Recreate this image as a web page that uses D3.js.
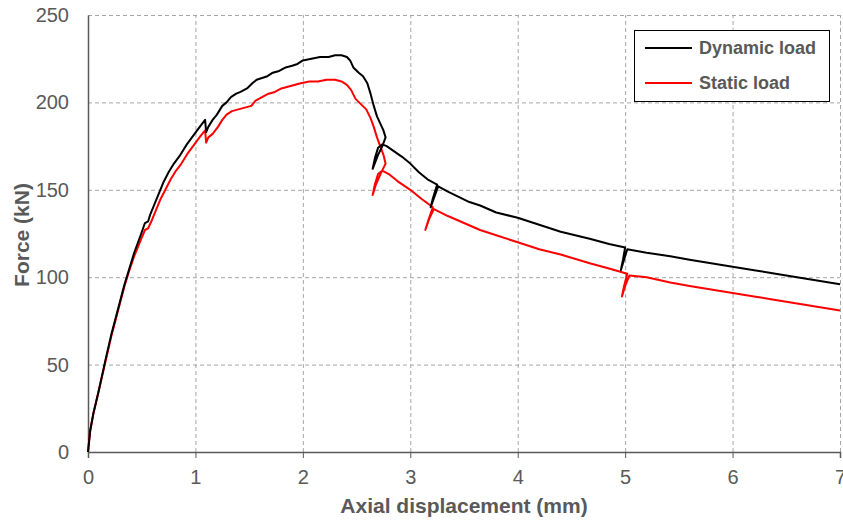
<!DOCTYPE html>
<html><head><meta charset="utf-8">
<script src="https://cdn.jsdelivr.net/npm/d3@7"></script>
<style>
body{margin:0;background:#fff;}
svg{display:block;}
text{font-family:"Liberation Sans Narrow","Arial Narrow","Liberation Sans",sans-serif;}
</style></head>
<body>
<svg id="chart" width="843" height="521"></svg>
<script>
const xTicks = [0,1,2,3,4,5,6,7];
const yTicks = [0,50,100,150,200,250];
const seriesNames = ["Dynamic load","Static load"];
const seriesColors = ["#000000","#ff0000"];

const dynamicX = [0,0.02,0.05,0.1,0.16,0.22,0.28,0.34,0.38,0.43,0.49,0.53,0.56,0.58,0.62,0.66,0.70,0.75,0.80,0.86,0.92,0.98,1.04,1.09,1.10,1.12,1.16,1.20,1.25,1.29,1.33,1.38,1.42,1.48,1.53,1.57,1.62,1.67,1.72,1.78,1.84,1.90,1.95,2.0,2.08,2.16,2.24,2.30,2.36,2.41,2.44,2.47,2.52,2.56,2.60,2.63,2.66,2.69,2.72,2.75,2.77,2.74,2.70,2.65,2.67,2.70,2.74,2.78,2.85,2.92,3.0,3.08,3.16,3.25,3.21,3.19,3.23,3.26,3.35,3.45,3.55,3.65,3.8,4.0,4.2,4.4,4.67,4.85,5.0,4.98,4.96,4.99,5.02,5.2,5.42,5.6,5.8,6.0,6.2,6.4,6.6,6.8,7.0];
const dynamicY = [0,12,22,35,52,68,82,96,104,114,124,131,132,136,142,148,154,160,165,170,176,181,186,190,183,186,190,193,198,200,203,205,206,208,211,213,214,215,217,218,220,221,222,224,225,226,226,227,227,226,224,220,217,215,211,205,198,192,188,184,180,175,170,162,168,174,176,175,172,169,165,160,156,153,145,140,147,152,149,146,143,141,137,134,130,126,122,119,117,110,104,110,116,114,112,110,108,106,104,102,100,98,96];

const staticX = [0,0.02,0.05,0.1,0.16,0.22,0.28,0.34,0.38,0.43,0.49,0.53,0.56,0.59,0.63,0.67,0.72,0.77,0.82,0.87,0.93,0.99,1.05,1.09,1.10,1.12,1.16,1.21,1.25,1.29,1.34,1.40,1.46,1.52,1.56,1.62,1.68,1.74,1.80,1.86,1.92,1.98,2.06,2.14,2.22,2.30,2.36,2.41,2.45,2.49,2.54,2.59,2.63,2.66,2.69,2.72,2.75,2.77,2.73,2.68,2.65,2.67,2.70,2.74,2.80,2.88,3.0,3.1,3.21,3.17,3.14,3.18,3.22,3.35,3.5,3.65,3.8,4.0,4.2,4.4,4.67,4.85,5.02,4.99,4.97,5.0,5.04,5.2,5.42,5.6,5.8,6.0,6.2,6.4,6.6,6.8,7.0];
const staticY = [0,12,22,35,51,67,81,95,103,112,121,127,128,132,138,144,150,156,161,165,171,176,181,184,177,180,182,186,190,193,195,196,197,198,201,203,205,206,208,209,210,211,212,212,213,213,212,210,207,202,199,196,191,186,180,175,170,165,160,153,147,153,159,161,159,155,150,145,140,133,127,134,139,135,131,127,124,120,116,113,108,105,102,95,89,95,101,100,97,95,93,91,89,87,85,83,81];

const svg = d3.select("#chart");
const x = d3.scaleLinear().domain([0,7]).range([88,840]);
const y = d3.scaleLinear().domain([0,250]).range([452,15]);
const textCol = "#595959";

// grid
svg.append("g").selectAll("line").data(yTicks.filter(d=>d>0)).join("line")
  .attr("x1",x(0)).attr("x2",x(7)).attr("y1",d=>y(d)+0.5).attr("y2",d=>y(d)+0.5)
  .attr("stroke","#a6a6a6").attr("stroke-width",1).attr("stroke-dasharray","4,3");
svg.append("g").selectAll("line").data(xTicks.filter(d=>d>0)).join("line")
  .attr("y1",y(0)).attr("y2",y(250)).attr("x1",d=>x(d)+0.5).attr("x2",d=>x(d)+0.5)
  .attr("stroke","#a6a6a6").attr("stroke-width",1).attr("stroke-dasharray","4,3");

// axes
const xAxis = d3.axisBottom(x).tickValues(xTicks).tickSize(6).tickPadding(12).tickFormat(d3.format("d"));
const gx = svg.append("g").attr("transform",`translate(0,${y(0)})`).call(xAxis);
gx.select(".domain").attr("stroke","#595959").attr("stroke-width",1.5);
gx.selectAll(".tick line").attr("stroke","#595959");
gx.selectAll(".tick text").attr("fill",textCol).style("font-size","20px");

const yAxis = d3.axisLeft(y).tickValues(yTicks).tickSize(0).tickPadding(19);
const gy = svg.append("g").attr("transform",`translate(${x(0)},0)`).call(yAxis);
gy.select(".domain").attr("stroke","#595959").attr("stroke-width",1.5);
gy.selectAll(".tick text").attr("fill",textCol).style("font-size","20px");

// lines
const line = d3.line().x(d=>x(d[0])).y(d=>y(d[1]));
const dynData = dynamicX.map((v,i)=>[v,dynamicY[i]]);
const staData = staticX.map((v,i)=>[v,staticY[i]]);
svg.append("path").datum(staData).attr("d",line).attr("fill","none")
  .attr("stroke",seriesColors[1]).attr("stroke-width",2).attr("stroke-linejoin","round");
svg.append("path").datum(dynData).attr("d",line).attr("fill","none")
  .attr("stroke",seriesColors[0]).attr("stroke-width",2).attr("stroke-linejoin","round");

// axis titles
svg.append("text").attr("x",464).attr("y",513).attr("text-anchor","middle")
  .attr("fill",textCol).style("font-size","21px").style("font-weight","bold").text("Axial displacement (mm)");
svg.append("text").attr("transform","translate(29,235) rotate(-90)").attr("text-anchor","middle")
  .attr("fill",textCol).style("font-size","21px").style("font-weight","bold").text("Force (kN)");

// legend
const lg = svg.append("g");
lg.append("rect").attr("x",634.5).attr("y",30.5).attr("width",195).attr("height",71)
  .attr("fill","#fff").attr("stroke","#000").attr("stroke-width",1);
seriesNames.forEach((n,i)=>{
  const yy = 48 + i*35;
  lg.append("line").attr("x1",645).attr("x2",692).attr("y1",yy).attr("y2",yy)
    .attr("stroke",seriesColors[i]).attr("stroke-width",2);
  lg.append("text").attr("x",699).attr("y",yy+6).attr("fill",textCol)
    .style("font-size","18px").style("font-weight","bold").text(n);
});
</script>
</body></html>
